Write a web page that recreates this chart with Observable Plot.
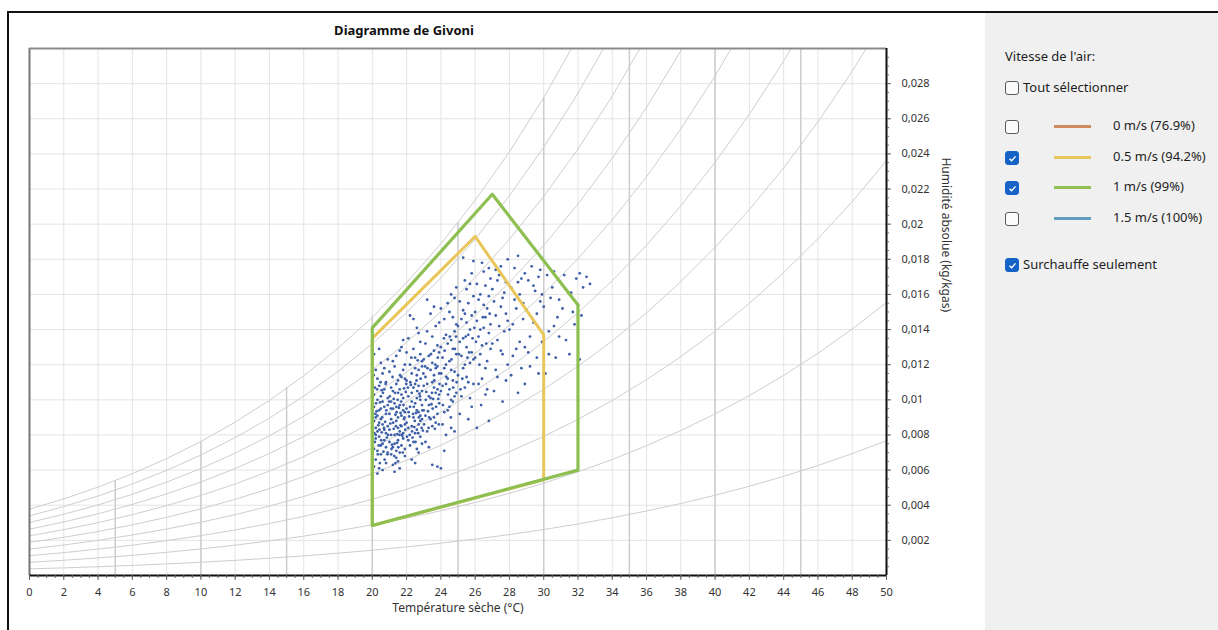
<!DOCTYPE html>
<html>
<head>
<meta charset="utf-8">
<script src="https://cdn.jsdelivr.net/npm/d3@7"></script>
<script src="https://cdn.jsdelivr.net/npm/@observablehq/plot@0.6"></script>
<style>
  body { margin: 0; background: #fff; width: 1218px; height: 630px; overflow: hidden; position: relative; font-family: "Noto Sans", sans-serif; }
  #chart { position: absolute; left: 0; top: 0; }
  .abs { position: absolute; }
  #panel { left: 985px; top: 13px; width: 233px; height: 617px; background: #f0f0f0; }
  .lg { position: absolute; font-size: 13px; color: #1e1e1e; white-space: nowrap; line-height: 16px; }
  .cb { position: absolute; width: 12px; height: 12px; border: 1px solid #5a5a5a; border-radius: 3px; background: #fbfbfb; box-sizing: content-box; }
  .cb.on { background: #1663c7; border-color: #1663c7; }
  .cb svg { position: absolute; left: 1px; top: 1px; }
  .sw { position: absolute; width: 37px; height: 3px; }
</style>
</head>
<body>
<div id="chart"></div>
<div id="panel" class="abs"></div>
<div class="abs" style="left:8px;top:11px;width:1210px;height:2px;background:#111"></div>
<div class="abs" style="left:7px;top:11px;width:2px;height:619px;background:#111"></div>
<div class="abs" id="title" style="left:304px;top:21px;width:200px;text-align:center;font-weight:bold;font-size:13px;color:#111">Diagramme de Givoni</div>
<div id="legend"></div>
<script>
// ---------- axis ticks ----------
const xTicks = [0,2,4,6,8,10,12,14,16,18,20,22,24,26,28,30,32,34,36,38,40,42,44,46,48,50];
const yTicks = [0.002,0.004,0.006,0.008,0.010,0.012,0.014,0.016,0.018,0.020,0.022,0.024,0.026,0.028];
const yTickLabels = ["0,002","0,004","0,006","0,008","0,01","0,012","0,014","0,016","0,018","0,02","0,022","0,024","0,026","0,028"];

// ---------- psychrometric background ----------
const rhLevels = [0.1,0.2,0.3,0.4,0.5,0.6,0.7,0.8,0.9,1.0];
const satTemps = [0,2,4,6,8,10,12,14,16,18,20,22,24,26,28,30,32,34,36,38,40,42,44,46,48,50];
const satPressurePa = [611,706,813,935,1073,1228,1403,1599,1819,2064,2339,2645,2985,3363,3782,4246,4759,5324,5947,6632,7384,8208,9111,10098,11177,12352];
const isothermTemps = [5,10,15,20,25,30,35,40,45];
const isothermTopGkg = [5.4,7.6,10.7,14.7,20.1,27.2,30,30,30];

// ---------- Givoni zones (temperature °C, humidity g/kg) ----------
const zone05T = [20,20,26,30,30,20];
const zone05H = [2.85,13.5,19.3,13.7,5.45,2.85];
const zone1T = [20,20,27,32,32,20];
const zone1H = [2.85,14.1,21.7,15.4,6.0,2.85];

// ---------- legend ----------
const legendLabels = ["0 m/s (76.9%)","0.5 m/s (94.2%)","1 m/s (99%)","1.5 m/s (100%)"];
const legendColors = ["#cf8a62","#e8c75c","#8fbf55","#5f9fbd"];
const legendChecked = [false,true,true,false];

// ---------- overheating hours (temperature °C, humidity g/kg) ----------
const overheatPoints = [
[20.1,7.2],[20.2,8.4],[20.3,9.1],[20.1,10.3],[20.4,6.1],[20.2,7.8],[20.5,8.9],[20.3,11.2],[20.6,7.5],[20.1,8.8],
[20.7,9.6],[20.4,10.8],[20.2,6.6],[20.8,8.1],[20.5,12.1],[20.3,5.8],[20.9,7.0],[20.6,9.9],[20.1,9.6],[20.7,10.6],
[20.4,7.9],[20.8,9.2],[20.2,11.7],[20.9,8.5],[20.5,6.9],[20.3,8.2],[20.6,11.5],[20.1,12.6],[20.7,7.7],[20.9,10.1],
[20.4,9.4],[20.8,6.4],[20.5,10.2],[20.2,9.0],[20.6,8.6],[20.3,7.1],[20.9,9.7],[20.7,8.3],[20.4,12.9],[20.8,11.0],
[20.1,6.2],[20.5,7.4],[20.6,6.0],[20.3,10.0],[20.9,12.3],[20.2,8.0],[20.7,11.8],[20.4,8.7],[20.8,7.3],[20.5,9.5],
[20.15,7.6],[20.35,8.55],[20.55,8.15],[20.25,9.35],[20.65,7.05],[20.45,9.85],[20.75,8.75],[20.85,7.85],[20.15,10.7],[20.55,10.55],
[20.12,8.1],[20.22,9.8],[20.32,6.9],[20.42,8.3],[20.52,7.7],[20.62,10.4],[20.72,6.6],[20.82,9.4],[20.92,8.0],[20.18,9.2],
[20.28,10.6],[20.38,7.4],[20.48,11.0],[20.58,9.0],[20.68,8.4],[20.78,10.9],[20.88,6.9],[20.98,9.9],[20.08,11.4],[20.44,6.4],
[21.0,7.6],[21.1,8.9],[21.2,6.3],[21.3,9.8],[21.4,7.1],[21.5,10.4],[21.6,8.2],[21.7,11.3],[21.8,7.8],[21.9,9.3],
[21.1,10.7],[21.2,12.2],[21.3,8.0],[21.4,6.7],[21.5,9.0],[21.6,12.8],[21.7,7.4],[21.8,10.1],[21.9,8.6],[21.0,11.6],
[21.2,9.5],[21.3,5.9],[21.4,10.9],[21.5,7.7],[21.6,9.7],[21.7,8.5],[21.8,13.4],[21.9,11.2],[21.0,8.3],[21.1,6.9],
[21.3,11.9],[21.4,8.8],[21.5,6.5],[21.6,10.6],[21.7,9.1],[21.8,8.1],[21.9,7.2],[21.1,9.9],[21.2,7.3],[21.4,12.5],
[21.5,11.1],[21.6,7.0],[21.7,10.3],[21.8,9.4],[21.9,12.0],[21.0,9.2],[21.2,10.5],[21.3,7.5],[21.5,8.4],[21.6,6.1],
[21.8,11.7],[21.9,6.8],[21.1,8.0],[21.4,9.6],[21.7,13.0],[21.05,8.65],[21.25,8.35],[21.45,8.05],[21.65,9.25],[21.85,8.9],
[21.15,7.45],[21.35,9.15],[21.55,9.55],[21.75,7.95],[21.95,10.45],[21.25,10.05],[21.45,7.55],[21.65,8.55],[21.85,10.65],[21.35,6.4],
[21.02,10.2],[21.12,7.2],[21.22,8.7],[21.32,10.4],[21.42,9.3],[21.52,7.3],[21.62,11.4],[21.72,8.0],[21.82,9.7],[21.92,8.3],
[21.08,9.5],[21.18,11.3],[21.28,6.8],[21.38,8.5],[21.48,10.0],[21.58,8.0],[21.68,9.9],[21.78,7.0],[21.88,9.0],[21.98,10.9],
[22.0,8.7],[22.1,10.2],[22.2,7.4],[22.3,11.5],[22.4,9.0],[22.5,12.4],[22.6,8.3],[22.7,10.8],[22.8,7.9],[22.9,11.9],
[22.1,13.5],[22.2,9.6],[22.3,6.6],[22.4,10.7],[22.5,8.1],[22.6,14.1],[22.7,9.3],[22.8,12.6],[22.9,8.9],[22.0,11.1],
[22.2,14.8],[22.3,8.5],[22.4,12.9],[22.5,9.8],[22.6,7.2],[22.7,11.7],[22.8,10.0],[22.9,9.7],[22.1,7.7],[22.3,9.9],
[22.4,7.6],[22.5,10.9],[22.6,11.4],[22.7,7.0],[22.8,13.3],[22.9,10.5],[22.0,9.5],[22.2,12.0],[22.4,14.6],[22.5,6.4],
[22.6,9.4],[22.7,13.8],[22.8,8.8],[22.9,12.2],[22.1,8.4],[22.3,10.4],[22.5,11.8],[22.6,10.1],[22.8,9.1],[22.9,7.5],
[22.0,12.7],[22.7,8.6],[22.15,9.05],[22.35,7.85],[22.55,9.25],[22.75,10.35],[22.95,8.25],[22.25,10.85],[22.45,8.45],[22.65,12.25],
[22.02,7.9],[22.12,9.3],[22.22,11.0],[22.32,8.2],[22.42,9.6],[22.52,7.6],[22.62,10.5],[22.72,9.0],[22.82,11.2],[22.92,9.4],
[22.08,10.7],[22.18,8.0],[22.28,12.4],[22.38,9.2],[22.48,8.8],[22.58,11.1],[22.68,8.1],[22.78,10.2],[22.88,8.4],[22.98,11.5],
[23.0,9.4],[23.1,11.3],[23.2,8.2],[23.3,12.5],[23.4,10.1],[23.5,13.6],[23.6,9.0],[23.7,11.8],[23.8,10.6],[23.9,14.4],
[23.1,7.6],[23.2,10.9],[23.3,9.7],[23.4,14.9],[23.5,11.0],[23.6,12.8],[23.7,8.7],[23.8,13.1],[23.9,11.5],[23.0,12.3],
[23.2,13.9],[23.3,7.3],[23.4,11.7],[23.5,8.5],[23.6,15.3],[23.7,10.4],[23.8,9.2],[23.9,12.7],[23.0,10.8],[23.1,13.2],
[23.3,10.2],[23.4,8.9],[23.5,12.1],[23.6,10.7],[23.7,14.2],[23.8,11.9],[23.9,9.8],[23.1,9.1],[23.5,6.3],[23.8,6.2],
[24.0,6.1],[23.2,15.7],[23.6,11.4],[23.9,10.3],[23.25,9.35],[23.45,9.75],[23.65,8.35],[23.85,10.05],[23.15,10.45],[23.55,10.05],
[23.02,8.6],[23.12,10.0],[23.22,11.8],[23.32,9.0],[23.42,12.6],[23.52,9.5],[23.62,11.1],[23.72,9.6],[23.82,12.4],[23.92,10.9],
[23.08,11.9],[23.28,8.4],[23.48,10.4],[23.68,12.0],[23.88,8.6],
[24.0,10.5],[24.1,12.4],[24.2,9.3],[24.3,13.7],[24.4,11.2],[24.5,15.0],[24.6,10.0],[24.7,12.9],[24.8,11.6],[24.9,14.3],
[24.1,8.6],[24.2,14.6],[24.3,10.9],[24.4,13.2],[24.5,9.6],[24.6,16.0],[24.7,11.1],[24.8,13.9],[24.9,10.4],[24.0,13.0],
[24.2,11.8],[24.3,8.0],[24.4,15.5],[24.5,12.2],[24.6,13.4],[24.7,9.9],[24.8,15.8],[24.9,12.6],[24.1,10.8],[24.3,12.0],
[24.5,10.6],[24.6,8.4],[24.7,14.7],[24.8,10.2],[24.9,16.4],[24.4,9.4],[24.0,15.2],[24.2,7.1],[24.6,11.7],[24.8,8.2],
[24.02,11.5],[24.12,9.7],[24.22,12.8],[24.32,11.3],[24.42,10.3],[24.52,13.6],[24.62,12.3],[24.72,10.7],[24.82,12.9],[24.92,11.0],
[24.18,13.5],[24.58,9.0],[24.88,13.6],
[25.0,11.4],[25.1,13.3],[25.2,10.2],[25.3,15.1],[25.4,12.0],[25.5,16.3],[25.6,11.0],[25.7,14.0],[25.8,12.7],[25.9,17.9],
[25.1,9.2],[25.2,14.6],[25.3,11.8],[25.4,16.8],[25.5,13.0],[25.6,15.5],[25.7,10.1],[25.8,14.8],[25.9,12.3],[25.0,14.2],
[25.2,12.5],[25.3,18.1],[25.4,10.7],[25.5,14.4],[25.6,13.7],[25.7,12.1],[25.8,9.6],[25.9,15.9],[25.1,15.6],[25.3,13.5],
[25.5,11.3],[25.6,8.9],[25.8,17.2],[25.9,10.9],[25.4,14.9],[25.7,16.6],
[25.05,12.6],[25.25,11.2],[25.45,13.6],[25.65,12.7],[25.85,13.5],[25.15,10.6],[25.55,12.4],[25.95,14.1],
[26.0,12.4],[26.1,14.5],[26.2,10.9],[26.3,16.0],[26.4,13.1],[26.5,17.3],[26.6,11.8],[26.7,15.2],[26.8,13.8],[26.9,16.9],
[26.1,8.4],[26.2,15.7],[26.3,12.6],[26.4,17.8],[26.5,14.1],[26.6,16.5],[26.7,10.6],[26.8,15.9],[26.9,12.9],[26.0,15.0],
[26.2,13.6],[26.4,11.2],[26.5,15.4],[26.6,14.7],[26.7,12.2],[26.8,8.8],[26.9,14.3],[26.1,16.6],[26.3,14.0],[26.6,10.3],[26.8,17.5],
[26.05,13.3],[26.25,12.0],[26.45,14.7],[26.65,13.2],[26.85,14.9],[26.35,9.7],
[27.0,13.2],[27.1,15.6],[27.2,11.7],[27.3,16.8],[27.4,14.2],[27.5,17.6],[27.6,12.6],[27.7,16.1],[27.8,14.9],[27.9,18.0],
[27.1,10.5],[27.2,14.8],[27.3,13.4],[27.4,17.1],[27.5,15.3],[27.6,9.9],[27.7,13.9],[27.8,16.7],[27.9,12.0],[27.0,16.3],
[27.3,11.3],[27.5,12.8],[27.6,15.8],[27.8,11.1],[27.9,14.5],[27.2,17.4],
[28.0,14.0],[28.1,16.4],[28.2,12.5],[28.3,17.5],[28.4,15.2],[28.5,18.2],[28.6,13.3],[28.7,16.9],[28.8,14.6],[28.9,17.2],
[28.1,11.4],[28.3,15.7],[28.4,12.9],[28.5,10.4],[28.6,16.0],[28.7,11.8],[28.8,15.5],[28.9,13.0],[28.2,14.3],[28.5,16.7],[28.9,10.9],
[29.0,15.1],[29.1,16.8],[29.2,13.6],[29.3,17.6],[29.4,14.4],[29.5,16.2],[29.6,12.4],[29.7,17.0],[29.8,15.6],[29.9,13.3],
[29.2,11.9],[29.4,16.5],[29.6,14.9],[29.8,17.4],[29.1,12.7],[29.7,11.5],[29.9,16.0],
[30.0,15.3],[30.2,17.1],[30.3,13.9],[30.5,16.4],[30.7,12.4],[30.8,14.7],[30.1,11.5],[30.4,15.8],[30.6,17.3],[30.9,13.6],
[30.3,12.6],[30.6,14.2],[30.9,15.7],
[31.1,15.2],[31.3,13.4],[31.5,12.6],[31.6,16.1],[31.8,14.3],[32.0,15.4],[32.1,12.3],[32.1,17.2],[32.3,16.4],[32.5,17.0],
[32.7,16.6],[31.9,16.9],[31.2,17.1],[32.2,14.8],[31.7,15.0]
];

// ---------- derived tables for the library ----------
const xMinor = d3.range(0, 100.5, 1).map(i => i / 2);
const yMinor = d3.range(1, 60).map(i => i * 0.0005);
const rhCurves = rhLevels.flatMap(phi => satTemps.map((t, i) => {
  const p = phi * satPressurePa[i];
  return {phi, t, w: 0.622 * p / (101325 - p)};
}));
const isotherms = isothermTemps.map((t, i) => ({t, top: isothermTopGkg[i] / 1000}));
const zone05 = zone05T.map((t, i) => ({t, h: zone05H[i] / 1000}));
const zone1 = zone1T.map((t, i) => ({t, h: zone1H[i] / 1000}));
const pts = overheatPoints.map(([t, g]) => ({t, h: g / 1000}));

const chart = Plot.plot({
  width: 1218, height: 630,
  marginLeft: 29, marginRight: 332, marginTop: 48, marginBottom: 55,
  style: {background: "transparent", fontFamily: "Noto Sans, sans-serif", fontSize: "11px", color: "#333"},
  x: {domain: [0, 50], label: null},
  y: {domain: [0, 0.03], label: null},
  marks: [
    Plot.ruleX(xTicks, {stroke: "#e4e4e4", strokeWidth: 1}),
    Plot.ruleY(yTicks, {stroke: "#e4e4e4", strokeWidth: 1}),
    Plot.line(rhCurves, {x: "t", y: "w", z: "phi", stroke: "#cecece", strokeWidth: 1, clip: true}),
    Plot.ruleX(isotherms, {x: "t", y1: () => 0, y2: "top", stroke: "#cdcdcd", strokeWidth: 1.5}),
    Plot.dot(pts, {x: "t", y: "h", r: 1.4, fill: "#3d5fa8"}),
    Plot.line(zone05, {x: "t", y: "h", stroke: "#e8c65a", strokeWidth: 3}),
    Plot.line(zone1, {x: "t", y: "h", stroke: "#8dbf51", strokeWidth: 3.2}),
    Plot.ruleX([0], {stroke: "#777", strokeWidth: 2}),
    Plot.ruleY([0.03], {stroke: "#8a8a8a", strokeWidth: 2}),
    Plot.ruleX([50], {stroke: "#111", strokeWidth: 2}),
    Plot.ruleY([0], {stroke: "#111", strokeWidth: 2}),
    Plot.axisX(xMinor, {anchor: "bottom", tickSize: 3, tickFormat: () => "", label: null, stroke: "#666"}),
    Plot.axisX(xTicks, {anchor: "bottom", tickSize: 5, tickPadding: 8, tickFormat: d => String(d), label: null, fill: "#333", stroke: "#666"}),
    Plot.axisY(yMinor, {anchor: "right", tickSize: 2, tickFormat: () => "", label: null, stroke: "#666"}),
    Plot.axisY(yTicks, {anchor: "right", tickSize: 4, tickPadding: 11, tickFormat: d => yTickLabels[yTicks.indexOf(d)], label: null, fill: "#333", stroke: "#666"}),
    Plot.text(["Humidité absolue (kg/kgas)"], {frameAnchor: "right", rotate: 90, dx: 59, fontSize: 12, fill: "#333"}),
    Plot.text(["Température sèche (°C)"], {frameAnchor: "bottom", dy: 36, fontSize: 12, fill: "#333"})
  ]
});
document.getElementById("chart").append(chart);

// ---------- legend panel ----------
const legend = document.getElementById("legend");
const check = '<svg width="11" height="11" viewBox="0 0 11 11"><path d="M2.5 5.8 L4.6 7.8 L8.6 3.4" fill="none" stroke="#fff" stroke-width="1.4"/></svg>';
function add(html) { legend.insertAdjacentHTML("beforeend", html); }
add('<div class="lg" style="left:1005px;top:48px">Vitesse de l\'air:</div>');
add('<div class="cb" style="left:1005px;top:81px"></div>');
add('<div class="lg" style="left:1023px;top:79px">Tout sélectionner</div>');
const rowY = [126, 157, 187, 218];
legendLabels.forEach((lab, i) => {
  const y = rowY[i];
  add(`<div class="cb${legendChecked[i] ? " on" : ""}" style="left:1005px;top:${y - 6}px">${legendChecked[i] ? check : ""}</div>`);
  add(`<div class="sw" style="left:1054px;top:${y - 1}px;background:${legendColors[i]}"></div>`);
  add(`<div class="lg" style="left:1113px;top:${y - 9}px">${lab}</div>`);
});
add(`<div class="cb on" style="left:1005px;top:258px">${check}</div>`);
add('<div class="lg" style="left:1023px;top:256px">Surchauffe seulement</div>');
</script>
</body>
</html>
